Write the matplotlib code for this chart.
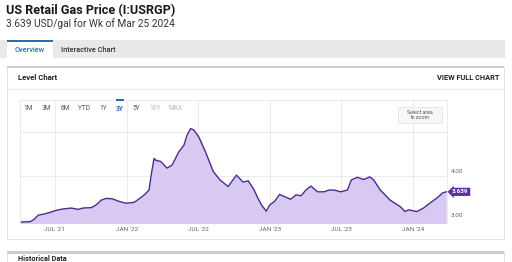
import matplotlib
matplotlib.use("Agg")
import matplotlib.transforms as mtransforms
import pandas as pd
from matplotlib import pyplot as plt
from matplotlib.patches import Rectangle

plt.rcParams["font.family"] = ["Roboto", "DejaVu Sans"]

# weekly price readings (USD/gal)
dates = [
    "2021-04-03", "2021-04-29", "2021-05-07", "2021-05-20", "2021-06-01", "2021-06-18",
    "2021-07-05", "2021-07-22", "2021-08-12", "2021-08-29", "2021-09-11", "2021-10-02",
    "2021-10-14", "2021-10-27", "2021-11-09", "2021-11-25", "2021-12-12", "2021-12-29",
    "2022-01-19", "2022-02-01", "2022-02-14", "2022-02-26", "2022-03-05", "2022-03-11",
    "2022-03-15", "2022-03-28", "2022-04-13", "2022-04-26", "2022-05-13", "2022-05-26",
    "2022-06-03", "2022-06-12", "2022-06-20", "2022-07-03", "2022-07-20", "2022-08-09",
    "2022-08-26", "2022-09-16", "2022-10-07", "2022-10-24", "2022-11-06", "2022-11-20",
    "2022-12-01", "2022-12-10", "2022-12-22", "2022-12-31",
    "2023-01-12", "2023-01-25", "2023-02-07", "2023-02-22", "2023-03-08", "2023-03-21",
    "2023-04-02", "2023-04-15", "2023-05-02", "2023-05-19", "2023-05-31", "2023-06-13",
    "2023-06-30", "2023-07-17", "2023-07-27", "2023-08-11", "2023-08-28", "2023-09-12",
    "2023-09-22", "2023-10-09", "2023-11-03", "2023-11-29", "2023-12-11", "2023-12-20",
    "2024-01-10", "2024-01-27", "2024-02-12", "2024-02-29", "2024-03-17", "2024-03-25",
]
prices = [
    2.95, 2.96, 3.00, 3.11, 3.13, 3.17, 3.22, 3.25, 3.27, 3.24, 3.27, 3.28,
    3.34, 3.45, 3.49, 3.48, 3.42, 3.38,
    3.40, 3.48, 3.57, 3.68, 4.10, 4.40, 4.36, 4.33, 4.18, 4.25, 4.55, 4.70,
    4.93, 5.08, 5.05, 4.89, 4.55, 4.10, 3.91, 3.76, 4.02, 3.86, 3.89, 3.70,
    3.49, 3.34, 3.20, 3.34,
    3.42, 3.58, 3.53, 3.47, 3.57, 3.55, 3.68, 3.77, 3.64, 3.64, 3.68, 3.68,
    3.64, 3.68, 3.91, 3.97, 3.92, 3.98, 3.91, 3.68, 3.45, 3.30, 3.19, 3.23,
    3.19, 3.27, 3.38, 3.49, 3.62, 3.639,
]
tick_dates = ["2021-07-01", "2022-01-01", "2022-07-01", "2023-01-01", "2023-07-01", "2024-01-01"]
tick_labels = ["JUL '21", "JAN '22", "JUL '22", "JAN '23", "JUL '23", "JAN '24"]
grid_levels = [3, 4, 5]
label_levels = [3, 4]
range_buttons = ["1M", "3M", "6M", "YTD", "1Y", "3Y", "5Y", "10Y", "MAX"]
range_x = [28, 46, 65, 84, 103, 120, 136, 155, 176]

W, H = 512, 262
x = pd.to_datetime(dates)

fig = plt.figure(figsize=(W / 100, H / 100), dpi=100)
fig.patch.set_facecolor("white")

# pixel helpers (from top-left)
def fx(px):
    return px / W

def fy(py):
    return 1 - py / H

def rect(x0, y0, x1, y1, **kw):
    fig.patches.append(Rectangle((fx(x0), fy(y1)), fx(x1 - x0), (y1 - y0) / H,
                                 transform=fig.transFigure, **kw))

def txt(px, py, s, **kw):
    fig.text(fx(px), fy(py), s, **kw)

# header
txt(6, 11, "US Retail Gas Price (I:USRGP)", fontsize=9.1, fontweight="bold", color="#1a1a1a", va="center")
txt(6, 24, "3.639 USD/gal for Wk of Mar 25 2024", fontsize=7.3, color="#333333", va="center")

# tab bar
rect(0, 40, 505, 58, facecolor="#e9e9e9", edgecolor="none")
rect(7, 42, 53, 58, facecolor="white", edgecolor="none")
rect(7, 40, 53, 42, facecolor="#2a6ebb", edgecolor="none")
txt(30, 50, "Overview", fontsize=5.3, color="#2a6ebb", ha="center", va="center", fontweight="medium")
txt(61, 50, "Interactive Chart", fontsize=5.3, color="#333333", va="center", fontweight="medium")

# level chart panel
rect(7, 67, 504, 239, facecolor="white", edgecolor="#e2e2e2", linewidth=0.7)
rect(7, 66, 504, 68, facecolor="#cccccc", edgecolor="none")
fig.lines.append(plt.Line2D([fx(7), fx(504)], [fy(89), fy(89)], transform=fig.transFigure,
                            color="#e6e6e6", linewidth=0.6))
txt(18, 78, "Level Chart", fontsize=5.6, fontweight="bold", color="#222222", va="center")
txt(499, 78, "VIEW FULL CHART", fontsize=5.3, fontweight="bold", color="#222222", ha="right", va="center")

# next panel peeking at the bottom
rect(7, 252, 504, 263, facecolor="white", edgecolor="#e2e2e2", linewidth=0.7)
rect(7, 251, 504, 254, facecolor="#cccccc", edgecolor="none")
txt(18, 261.3, "Historical Data", fontsize=5.2, fontweight="bold", color="#222222", va="baseline")

# chart axes
ax = fig.add_axes([fx(20), fy(223), fx(447 - 20), (223 - 100) / H])
ax.set_zorder(2)
ax.set_facecolor("white")
ax.fill_between(x, prices, 2.0, color="#d8c9f2", linewidth=0)
ax.plot(x, prices, color="#4a2a8c", linewidth=1.0, solid_joinstyle="round")
ax.set_xlim(pd.Timestamp("2021-04-03"), pd.Timestamp("2024-03-27"))
ax.set_ylim(2.93, 5.73)

for d in tick_dates:
    ax.axvline(pd.Timestamp(d), color="#e8e8e8", linewidth=0.6, zorder=0)
for g in grid_levels:
    ax.axhline(g, color="#e8e8e8", linewidth=0.6, zorder=0)

ax.set_xticks(pd.to_datetime(tick_dates))
ax.set_xticklabels(tick_labels, fontsize=4.6, color="#666666")
ax.tick_params(axis="x", length=0, pad=3)
ax.set_yticks([])
for side in ["left", "top", "right"]:
    ax.spines[side].set_color("#e6e6e6")
    ax.spines[side].set_linewidth(0.6)
ax.spines["bottom"].set_visible(False)

ytrans = mtransforms.blended_transform_factory(ax.transAxes, ax.transData)
for lv in label_levels:
    ax.text(1.008, lv + 0.04, f"{lv:.2f}", transform=ytrans, fontsize=4.6, color="#666666",
            va="bottom", ha="left")
ax.text(1.012, prices[-1], f"{prices[-1]:.3f}", transform=ytrans, fontsize=4.6, color="white",
        fontweight="bold", va="center", ha="left",
        bbox=dict(boxstyle="larrow,pad=0.25", facecolor="#5a2ea6", edgecolor="none"))

# range selector (drawn over the chart axes)
for lbl, bx in zip(range_buttons, range_x):
    if lbl == "3Y":
        c, w = "#2a6ebb", "bold"
        rect(bx - 4, 99, bx + 4, 101, facecolor="#2a6ebb", edgecolor="none", zorder=3)
    elif lbl in ("10Y", "MAX"):
        c, w = "#bbbbbb", "normal"
    else:
        c, w = "#555555", "normal"
    txt(bx, 109, lbl, fontsize=4.8, color=c, fontweight=w, ha="center", va="center", zorder=4)

# zoom hint box
rect(398, 107, 442, 123, facecolor="#f7f7f7", edgecolor="#e0e0e0", linewidth=0.5, zorder=3)
txt(420, 115, "Select area\nto zoom", fontsize=3.8, color="#555555", ha="center", va="center",
    linespacing=1.1, zorder=4)

fig.savefig("out.png", dpi=100, facecolor="white")
